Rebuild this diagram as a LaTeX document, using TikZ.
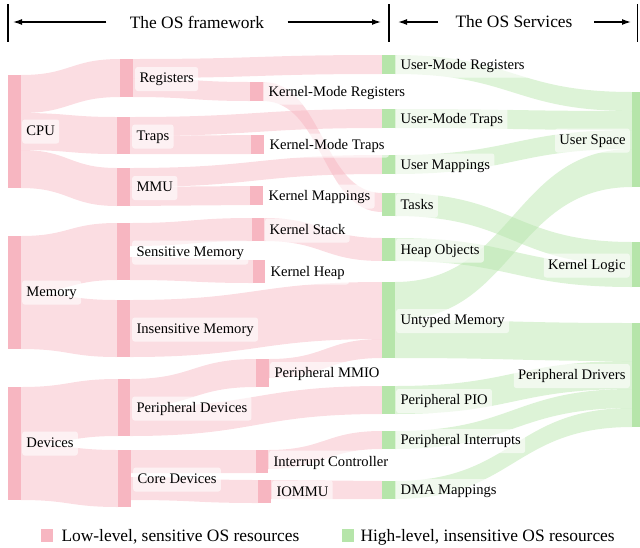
\documentclass[tikz,border=0pt]{standalone}
\usepackage{fontspec}
\setmainfont{Liberation Serif}
\usetikzlibrary{arrows.meta}
\definecolor{pbar}{RGB}{247,182,193}
\definecolor{gbar}{RGB}{182,229,170}
\tikzset{
 lbl/.style={fill=white, fill opacity=0.6, text opacity=1, rounded corners=2.5pt, inner xsep=4.3pt, inner ysep=4.5pt, text height=11pt, text depth=4pt, font=\fontsize{14.6}{16}\selectfont, anchor=west},
 lblr/.style={lbl, anchor=east},
 pband/.style={fill=pbar, fill opacity=0.47},
 gband/.style={fill=gbar, fill opacity=0.47},
 hdr/.style={font=\fontsize{17.4}{19}\selectfont},
 harrow/.style={line width=1.3pt, -{Latex[length=9pt,width=6pt]}},
 vbar/.style={line width=1.5pt},
}
\newcommand{\band}[7]{\fill[#1] (#2,#3) .. controls ({(#2+#5)/2},#3) and ({(#2+#5)/2},#6) .. (#5,#6) -- (#5,#7) .. controls ({(#2+#5)/2},#7) and ({(#2+#5)/2},#4) .. (#2,#4) -- cycle;}
\begin{document}
\begin{tikzpicture}[x=1pt,y=-1pt]
\useasboundingbox (0,0) rectangle (640,547);
% ---------- header
\draw[vbar] (8,4) -- (8,42);
\draw[vbar] (389,4) -- (389,42);
\draw[vbar] (637.5,4) -- (637.5,42);
\node[hdr] (hf) at (197,22) {The OS framework};
\node[hdr] (hs) at (514,22) {The OS Services};
\coordinate (l1) at (13,22); \coordinate (r1) at (381,22);
\coordinate (l2) at (398,22); \coordinate (r2) at (631,22);
\draw[harrow] (hf.west) ++(-20,0) -- (l1);
\draw[harrow] (hf.east) ++(20,0) -- (r1);
\draw[harrow] (hs.west) ++(-14,0) -- (l2);
\draw[harrow] (hs.east) ++(18,0) -- (r2);
% ---------- bands col1 -> col2
\band{pband}{21}{75}{113}{120}{59}{97}
\band{pband}{21}{113}{150}{117}{117}{154}
\band{pband}{21}{150}{188}{117}{168}{206}
\band{pband}{21}{236}{293}{117}{223}{280}
\band{pband}{21}{293}{349}{117}{300}{357}
\band{pband}{21}{387}{444}{118}{379}{436}
\band{pband}{21}{444}{500}{118}{450}{507}
% ---------- bands col2 -> col3/4
\band{pband}{133}{59}{78}{382}{55}{74}
\band{pband}{133}{78}{97}{250}{82}{101}
\band{pband}{130}{117}{136}{382}{109}{128}
\band{pband}{130}{136}{154}{251}{135}{154}
\band{pband}{130}{168}{187}{382}{155}{174}
\band{pband}{130}{187}{206}{250}{186}{205}
\band{pband}{130}{223}{246}{252}{218}{241}
\band{pband}{130}{257}{280}{253}{260}{283}
\band{pband}{130}{300}{357}{382}{282}{339}
\band{pband}{130}{379}{407}{256}{359}{387}
\band{pband}{130}{407}{436}{382}{386}{414}
\band{pband}{131}{450}{473}{256}{450}{473}
\band{pband}{131}{477}{500}{258}{480}{503}
% ---------- bands col3 -> col4
\band{pband}{263}{82}{101}{382}{193}{212}
\band{pband}{264}{218}{241}{382}{238}{261}
\band{pband}{269}{359}{378}{382}{339}{358}
\band{pband}{268}{450}{469}{382}{431}{449}
\band{pband}{271}{480}{499}{382}{481}{499}
% ---------- bands col4 -> col5
\band{gband}{395}{55}{74}{632}{92}{111}
\band{gband}{395}{109}{128}{632}{111}{130}
\band{gband}{395}{155}{174}{632}{130}{149}
\band{gband}{395}{282}{320}{632}{149}{187}
\band{gband}{395}{193}{216}{632}{242}{265}
\band{gband}{395}{238}{261}{632}{265}{287}
\band{gband}{395}{320}{358}{632}{323}{361}
\band{gband}{395}{386}{414}{632}{361}{389}
\band{gband}{395}{431}{449}{632}{389}{408}
\band{gband}{395}{481}{499}{632}{408}{427}
% ---------- bars
\fill[pbar] (8,75) rectangle (21,188);
\fill[pbar] (8,236) rectangle (21,349);
\fill[pbar] (8,387) rectangle (21,500);
\fill[pbar] (120,59) rectangle (133,97);
\fill[pbar] (117,117) rectangle (130,154);
\fill[pbar] (117,168) rectangle (130,206);
\fill[pbar] (117,223) rectangle (130,280);
\fill[pbar] (117,300) rectangle (130,357);
\fill[pbar] (118,379) rectangle (130,436);
\fill[pbar] (118,450) rectangle (131,507);
\fill[pbar] (250,82) rectangle (263,101);
\fill[pbar] (251,135) rectangle (264,154);
\fill[pbar] (250,186) rectangle (263,205);
\fill[pbar] (252,218) rectangle (264,241);
\fill[pbar] (253,260) rectangle (265,283);
\fill[pbar] (256,359) rectangle (269,387);
\fill[pbar] (256,450) rectangle (268,473);
\fill[pbar] (258,480) rectangle (271,503);
\fill[gbar] (382,55) rectangle (395,74);
\fill[gbar] (382,109) rectangle (395,128);
\fill[gbar] (382,155) rectangle (395,174);
\fill[gbar] (382,193) rectangle (395,216);
\fill[gbar] (382,238) rectangle (395,261);
\fill[gbar] (382,282) rectangle (395,358);
\fill[gbar] (382,386) rectangle (395,414);
\fill[gbar] (382,431) rectangle (395,449);
\fill[gbar] (382,481) rectangle (395,499);
\fill[gbar] (632,92) rectangle (640,187);
\fill[gbar] (632,242) rectangle (640,287);
\fill[gbar] (632,323) rectangle (640,427);
% ---------- labels
\node[lbl] (cpu) at (22,131.5) {CPU};
\node[lbl] (mem) at (22,292.5) {Memory};
\node[lbl] (dev) at (22,443.5) {Devices};
\node[lbl] (reg) at (135,79) {Registers};
\node[lbl] (trp) at (132,136.5) {Traps};
\node[lbl] (mmu) at (132,188) {MMU};
\node[lbl] (sm) at (132,252.5) {Sensitive Memory};
\node[lbl] (im) at (132,329.5) {Insensitive Memory};
\node[lbl] (pd) at (132,408.5) {Peripheral Devices};
\node[lbl] (cd) at (133,479.5) {Core Devices};
\node[lbl] (kmr) at (264,92.5) {Kernel-Mode Registers};
\node[lbl] (kmt) at (265,145.5) {Kernel-Mode Traps};
\node[lbl] (kmp) at (264,196.5) {Kernel Mappings};
\node[lbl] (ks) at (265,230.5) {Kernel Stack};
\node[lbl] (kh) at (266,272.5) {Kernel Heap};
\node[lbl] (pm) at (270,374) {Peripheral MMIO};
\node[lbl] (ic) at (269,462.5) {Interrupt Controller};
\node[lbl] (io) at (272,492.5) {IOMMU};
\node[lbl] (umr) at (396,65.5) {User-Mode Registers};
\node[lbl] (umt) at (396,119.5) {User-Mode Traps};
\node[lbl] (ump) at (396,165.5) {User Mappings};
\node[lbl] (tsk) at (396,205.5) {Tasks};
\node[lbl] (ho) at (396,250.5) {Heap Objects};
\node[lbl] (um) at (396,321) {Untyped Memory};
\node[lbl] (pp) at (396,401) {Peripheral PIO};
\node[lbl] (pi) at (396,441) {Peripheral Interrupts};
\node[lbl] (dm) at (396,491) {DMA Mappings};
\node[lblr] (us) at (630,140.5) {User Space};
\node[lblr] (kl) at (630,265.5) {Kernel Logic};
\node[lblr] (pdr) at (630,376) {Peripheral Drivers};
% ---------- legend
\fill[pbar] (41,529) rectangle (53,542);
\node[hdr, anchor=west] (lg1) at (58,537) {Low-level, sensitive OS resources};
\fill[gbar] (342,529) rectangle (354,542);
\node[hdr, anchor=west] (lg2) at (357,537) {High-level, insensitive OS resources};
\end{tikzpicture}
\end{document}
